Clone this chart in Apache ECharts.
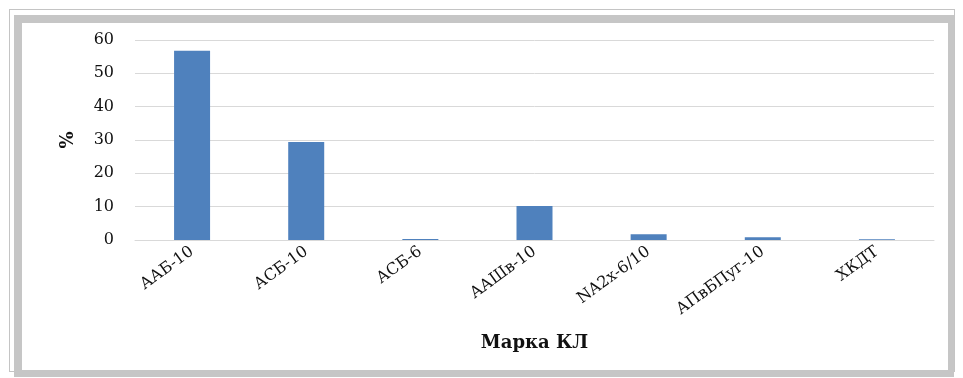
<!DOCTYPE html>
<html>
<head>
<meta charset="utf-8">
<script src="https://cdn.jsdelivr.net/npm/echarts@6/dist/echarts.min.js"></script>
<style>
  body { margin: 0; background: #fff; }
  #outer { position: absolute; left: 9px; top: 9px; width: 944px; height: 361px; border: 1px solid #c4c4c4; }
  #inner { position: absolute; left: 14px; top: 15px; width: 926px; height: 347px;
    border-style: solid; border-color: #c6c6c6; border-width: 8px 6px 7px 8px; }
  #main { position: absolute; left: 0; top: 0; width: 963px; height: 378px; }
</style>
</head>
<body>
<div id="outer"></div>
<div id="inner"></div>
<div id="main"></div>
<script>
  // марки кабельных линий
  const categories = ["ААБ-10", "АСБ-10", "АСБ-6", "ААШв-10", "NA2x-6/10", "АПвБПуг-10", "ХКДТ"];
  // доля, %
  const shares = [56.8, 29.4, 0.3, 10.2, 1.7, 0.8, 0.2];
  const yTicks = { min: 0, max: 60, interval: 10 };

  const chart = echarts.init(document.getElementById("main"));
  const serif = "'DejaVu Serif', 'Liberation Serif', serif";
  const option = {
    backgroundColor: "transparent",
    animation: false,
    grid: { left: 135, right: 29, top: 40, bottom: 138 },
    xAxis: {
      type: "category",
      data: categories,
      name: "Марка КЛ",
      nameLocation: "middle",
      nameGap: 94,
      nameTextStyle: { fontFamily: serif, fontWeight: "bold", fontSize: 18, color: "#111" },
      axisLine: { lineStyle: { color: "#d9d9d9" } },
      axisTick: { show: false },
      axisLabel: { rotate: 36, margin: 10, fontFamily: serif, fontSize: 16, color: "#111", interval: 0 }
    },
    yAxis: {
      type: "value",
      min: yTicks.min,
      max: yTicks.max,
      interval: yTicks.interval,
      name: "%",
      nameLocation: "middle",
      nameGap: 58,
      nameTextStyle: { fontFamily: serif, fontWeight: "bold", fontSize: 18, color: "#111" },
      axisLine: { show: false },
      axisTick: { show: false },
      axisLabel: { margin: 21, fontFamily: serif, fontSize: 16, color: "#111" },
      splitLine: { lineStyle: { color: "#d9d9d9" } }
    },
    series: [{
      type: "bar",
      data: shares,
      barWidth: 36,
      itemStyle: { color: "#4f81bd" }
    }]
  };
  chart.setOption(option);
</script>
</body>
</html>
